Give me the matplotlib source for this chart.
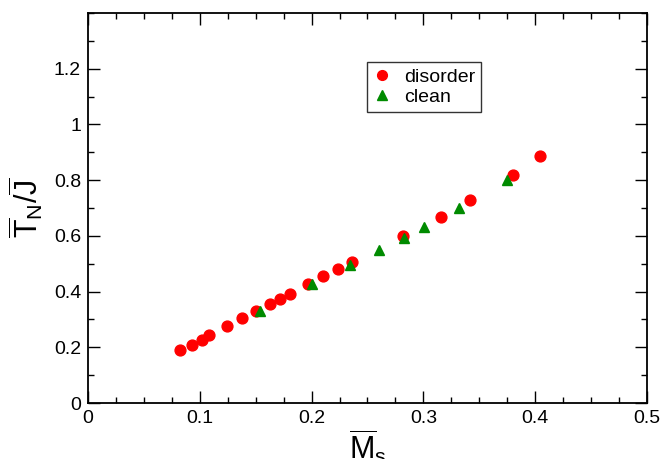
import matplotlib
matplotlib.use("Agg")
import matplotlib.pyplot as plt
from matplotlib.ticker import MultipleLocator

plt.rcParams['font.family'] = ['Liberation Sans', 'DejaVu Sans']
plt.rcParams['mathtext.fontset'] = 'custom'
plt.rcParams['mathtext.rm'] = 'Liberation Sans'
plt.rcParams['mathtext.it'] = 'Liberation Sans:italic'

# disorder data
disorder_ms = [0.082, 0.0933, 0.1017, 0.1085, 0.124, 0.1377, 0.150, 0.1625, 0.1717,
               0.181, 0.1968, 0.2105, 0.2236, 0.236, 0.282, 0.3155, 0.342, 0.380, 0.404]
disorder_tn = [0.189, 0.208, 0.226, 0.243, 0.276, 0.306, 0.331, 0.355, 0.375,
               0.393, 0.4275, 0.4547, 0.482, 0.507, 0.600, 0.669, 0.727, 0.819, 0.885]
# clean data
clean_ms = [0.1538, 0.2007, 0.234, 0.260, 0.2826, 0.3008, 0.3316, 0.375]
clean_tn = [0.329, 0.426, 0.496, 0.549, 0.594, 0.632, 0.699, 0.802]

xticks = [0, 0.1, 0.2, 0.3, 0.4, 0.5]
xticklabels = ['0', '0.1', '0.2', '0.3', '0.4', '0.5']
yticks = [0, 0.2, 0.4, 0.6, 0.8, 1.0, 1.2]
yticklabels = ['0', '0.2', '0.4', '0.6', '0.8', '1', '1.2']

fig = plt.figure(figsize=(6.61, 4.59), dpi=100)
ax = fig.add_axes([0.1331, 0.122, 0.9788 - 0.1331, 0.9717 - 0.122])

ax.plot(disorder_ms, disorder_tn, linestyle='none', marker='o', markersize=7.8,
        color='#ff0000', markeredgecolor='#ff0000', label='disorder', zorder=3)
ax.plot(clean_ms, clean_tn, linestyle='none', marker='^', markersize=7.8,
        color='#008b00', markeredgecolor='#008b00', label='clean', zorder=4)

ax.set_xlim(0, 0.5)
ax.set_ylim(0, 1.4)
ax.set_xticks(xticks)
ax.set_xticklabels(xticklabels)
ax.set_yticks(yticks)
ax.set_yticklabels(yticklabels)
ax.xaxis.set_minor_locator(MultipleLocator(0.025))
ax.yaxis.set_minor_locator(MultipleLocator(0.1))
ax.tick_params(which='both', direction='in', top=True, right=True, width=1.0,
               labelsize=14, color='black')
ax.tick_params(which='major', length=8.5, pad=5)
ax.tick_params(which='minor', length=4.5)
for s in ax.spines.values():
    s.set_linewidth(1.3)

ax.set_xlabel(r'$\overline{\mathrm{M}}_{\mathrm{s}}$', fontsize=22, labelpad=0)
ax.set_ylabel(r'$\overline{\mathrm{T}}_{\mathrm{N}}/\overline{\mathrm{J}}$', fontsize=22, labelpad=6)

leg = ax.legend(loc='upper left', bbox_to_anchor=(0.499, 0.874), borderaxespad=0,
                fontsize=14, frameon=True, fancybox=False, edgecolor='black',
                handlelength=1.0, handletextpad=0.6, borderpad=0.3, labelspacing=0.15,
                markerscale=0.9)
leg.get_frame().set_linewidth(1.0)

fig.savefig('out.png', dpi=100)
